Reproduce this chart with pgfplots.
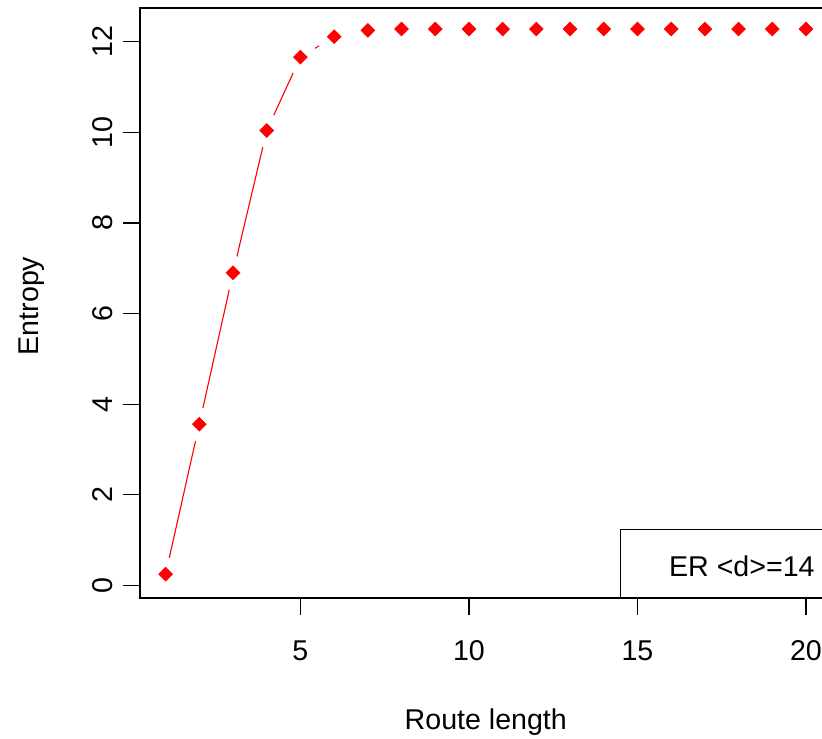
\documentclass[border=0pt]{standalone}
\usepackage{pgfplots}
\usepackage{pgfplotstable}
\pgfplotsset{compat=1.18}
\usepackage{fontspec}
\setmainfont{Liberation Sans}
\newcommand{\rfont}{\fontsize{14.3}{17}\selectfont}
\pgfplotstableread{
x y
1 0.25
2 3.56
3 6.90
4 10.04
5 11.66
6 12.11
7 12.25
8 12.28
9 12.28
10 12.28
11 12.28
12 12.28
13 12.28
14 12.28
15 12.28
16 12.28
17 12.28
18 12.28
19 12.28
20 12.28
}\entropydata
\begin{document}
\begin{tikzpicture}
\path[use as bounding box, clip] (-70pt,-70pt) rectangle (341pt,299pt);
\begin{axis}[
  at={(0,0)}, anchor=south west,
  scale only axis, width=345.8pt, height=295pt,
  xmin=0.24, xmax=20.76, ymin=-0.276, ymax=12.744,
  xtick={5,10,15,20}, ytick={0,2,4,6,8,10,12},
  xtick pos=bottom, ytick pos=left,
  tick align=outside, major tick length=8.5pt,
  axis line style={line width=0.6pt},
  tick style={black, line width=0.6pt},
  /pgf/number format/assume math mode=true,
  every tick label/.append style={font=\rfont},
  xticklabel style={anchor=base, yshift=-22.5pt},
  yticklabel style={rotate=90, anchor=base, yshift=5pt},
  xlabel={Route length}, ylabel={Entropy},
  every axis x label/.style={at={(axis description cs:0.5,0)}, anchor=base, yshift=-65.5pt, font=\rfont},
  every axis y label/.style={at={(axis description cs:0,0.5)}, rotate=90, anchor=base, yshift=50.75pt, xshift=-1.5pt, font=\rfont},
]
\addplot[red, line width=0.55pt, mark=none] table[x=x, y=y] {\entropydata};
\addplot[white, only marks, mark=*, mark size=8.25pt, mark options={fill=white, draw=white, line width=0pt}] table[x=x, y=y] {\entropydata};
\addplot[red, only marks, mark=square*, mark size=2.4pt, mark options={fill=red, draw=red, rotate=45}] table[x=x, y=y] {\entropydata};
\node[draw, line width=0.6pt, fill=white, anchor=south east, minimum width=105.3pt, minimum height=34pt, inner sep=0pt] at (rel axis cs:1,0) {};
\node[anchor=base east, inner sep=0pt, font=\rfont] at ([xshift=-8.3pt, yshift=10.65pt]rel axis cs:1,0) {ER <d>=14};
\end{axis}
\end{tikzpicture}
\end{document}
